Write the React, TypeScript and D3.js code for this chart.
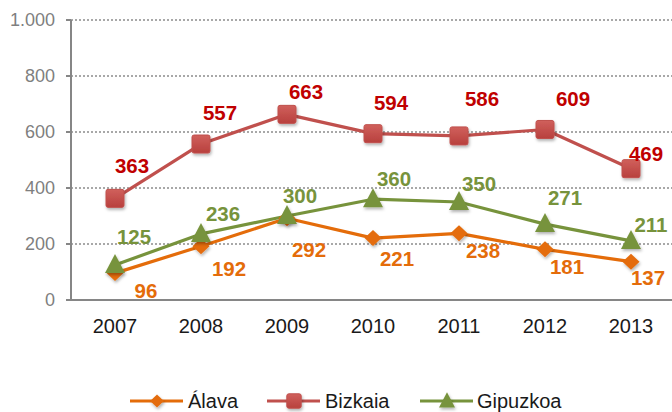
import React from "react";
import * as d3 from "d3";

const years = ["2007", "2008", "2009", "2010", "2011", "2012", "2013"];
const alava = [96, 192, 292, 221, 238, 181, 137];
const bizkaia = [363, 557, 663, 594, 586, 609, 469];
const gipuzkoa = [125, 236, 300, 360, 350, 271, 211];
const yTicks = [0, 200, 400, 600, 800, 1000];

// label placement offsets (layout, px)
const alavaLabelDx = [31, 28, 22, 24, 24, 22, 17];
const alavaLabelDy = [17, 22, 31, 20, 17, 17, 16];
const bizkaiaLabelDx = [17, 19, 19, 18, 23, 28, 15];
const bizkaiaLabelDy = [-33, -31, -23, -31, -37, -31, -15];
const gipuzkoaLabelDx = [19, 22, 13, 21, 20, 20, 20];
const gipuzkoaLabelDy = [-28, -20, -20, -21, -18, -27, -16];

const W = 672;
const H = 412;
const axisX = 71;

const x = d3.scaleBand<string>().domain(years).range([72, 674]).padding(0);
const cx = (d: string) => (x(d) as number) + x.bandwidth() / 2;
const y = d3.scaleLinear().domain([0, 1000]).range([300, 20]);

const fmt = (v: number) => d3.format(",")(v).replace(/,/g, ".");

type Kind = "diamond" | "square" | "triangle";

function Marker({ kind, px, py, s = 1 }: { kind: Kind; px: number; py: number; s?: number }) {
  if (kind === "square") {
    return (
      <rect x={px - 9 * s} y={py - 9 * s} width={18 * s} height={18 * s} rx={2} fill="url(#gradRed)" stroke="#c0504d" strokeWidth={1} filter="url(#shadow)" />
    );
  }
  if (kind === "triangle") {
    const p = d3.path();
    p.moveTo(px, py - 11 * s);
    p.lineTo(px + 10 * s, py + 8 * s);
    p.lineTo(px - 10 * s, py + 8 * s);
    p.closePath();
    return <path d={p.toString()} fill="#77933c" filter="url(#shadow)" />;
  }
  const p = d3.path();
  p.moveTo(px, py - 8 * s);
  p.lineTo(px + 8.5 * s, py);
  p.lineTo(px, py + 8 * s);
  p.lineTo(px - 8.5 * s, py);
  p.closePath();
  return <path d={p.toString()} fill="#e46c0a" filter="url(#shadow)" />;
}

const series = [
  { name: "Álava", values: alava, line: "#e46c0a", label: "#e46c0a", kind: "diamond" as Kind, dx: alavaLabelDx, dy: alavaLabelDy },
  { name: "Bizkaia", values: bizkaia, line: "#c0504d", label: "#c00000", kind: "square" as Kind, dx: bizkaiaLabelDx, dy: bizkaiaLabelDy },
  { name: "Gipuzkoa", values: gipuzkoa, line: "#77933c", label: "#77933c", kind: "triangle" as Kind, dx: gipuzkoaLabelDx, dy: gipuzkoaLabelDy },
];

const drawOrder = [1, 0, 2];

export default function App() {
  const lineGen = d3
    .line<number>()
    .x((_, i) => cx(years[i]))
    .y((v) => y(v));

  const legendItems = [
    { s: series[0], x0: 130, tx: 188 },
    { s: series[1], x0: 267, tx: 325 },
    { s: series[2], x0: 420, tx: 477 },
  ];
  const legY = 401;

  return (
    <svg width={W} height={H} style={{ position: "absolute", left: 0, top: 0, background: "#fff" }} fontFamily="'Liberation Sans', Arial, sans-serif">
      <defs>
        <filter id="shadow" x="-50%" y="-50%" width="200%" height="200%">
          <feDropShadow dx="1" dy="2" stdDeviation="1.5" floodColor="#000" floodOpacity="0.3" />
        </filter>
        <linearGradient id="gradRed" x1="0" y1="0" x2="0" y2="1">
          <stop offset="0" stopColor="#d0605c" />
          <stop offset="1" stopColor="#b8403d" />
        </linearGradient>
      </defs>

      {/* gridlines */}
      {yTicks.filter((t) => t > 0).map((t) => (
        <line key={t} x1={axisX} x2={W} y1={y(t)} y2={y(t)} stroke="#8c8c8c" strokeWidth={1.3} strokeDasharray="2,2" />
      ))}

      {/* axes */}
      <line x1={axisX} x2={axisX} y1={y(1000)} y2={y(0)} stroke="#868686" strokeWidth={2} />
      <line x1={axisX - 1} x2={W} y1={y(0)} y2={y(0)} stroke="#868686" strokeWidth={2} />
      {yTicks.map((t) => (
        <g key={t}>
          <line x1={axisX - 5} x2={axisX} y1={y(t)} y2={y(t)} stroke="#868686" strokeWidth={2} />
          <text x={55} y={y(t)} dy="0.36em" textAnchor="end" fontSize={18} fill="#7f7f7f">
            {fmt(t)}
          </text>
        </g>
      ))}
      {years.map((yr) => (
        <text key={yr} x={cx(yr)} y={333} textAnchor="middle" fontSize={20} fill="#1a1a1a">
          {yr}
        </text>
      ))}

      {/* lines */}
      {drawOrder.map((i) => {
        const s = series[i];
        return <path key={s.name} d={lineGen(s.values) || ""} fill="none" stroke={s.line} strokeWidth={3.2} strokeLinejoin="round" />;
      })}
      {drawOrder.map((i) => {
        const s = series[i];
        return (
          <g key={s.name + "m"}>
            {s.values.map((v, j) => (
              <Marker key={j} kind={s.kind} px={cx(years[j])} py={y(v)} />
            ))}
          </g>
        );
      })}
      {series.map((s) => (
        <g key={s.name + "l"}>
          {s.values.map((v, j) => (
            <text key={j} x={cx(years[j]) + s.dx[j]} y={y(v) + s.dy[j]} dy="0.36em" textAnchor="middle" fontSize={20.5} fontWeight="bold" fill={s.label}>
              {v}
            </text>
          ))}
        </g>
      ))}

      {/* legend */}
      {legendItems.map(({ s, x0, tx }) => (
        <g key={s.name + "lg"}>
          <line x1={x0} x2={x0 + 53} y1={legY} y2={legY} stroke={s.line} strokeWidth={3} />
          <Marker kind={s.kind} px={x0 + 27} py={legY} s={0.8} />
          <text x={tx} y={legY + 7} fontSize={20} fill="#1a1a1a">
            {s.name}
          </text>
        </g>
      ))}
    </svg>
  );
}
